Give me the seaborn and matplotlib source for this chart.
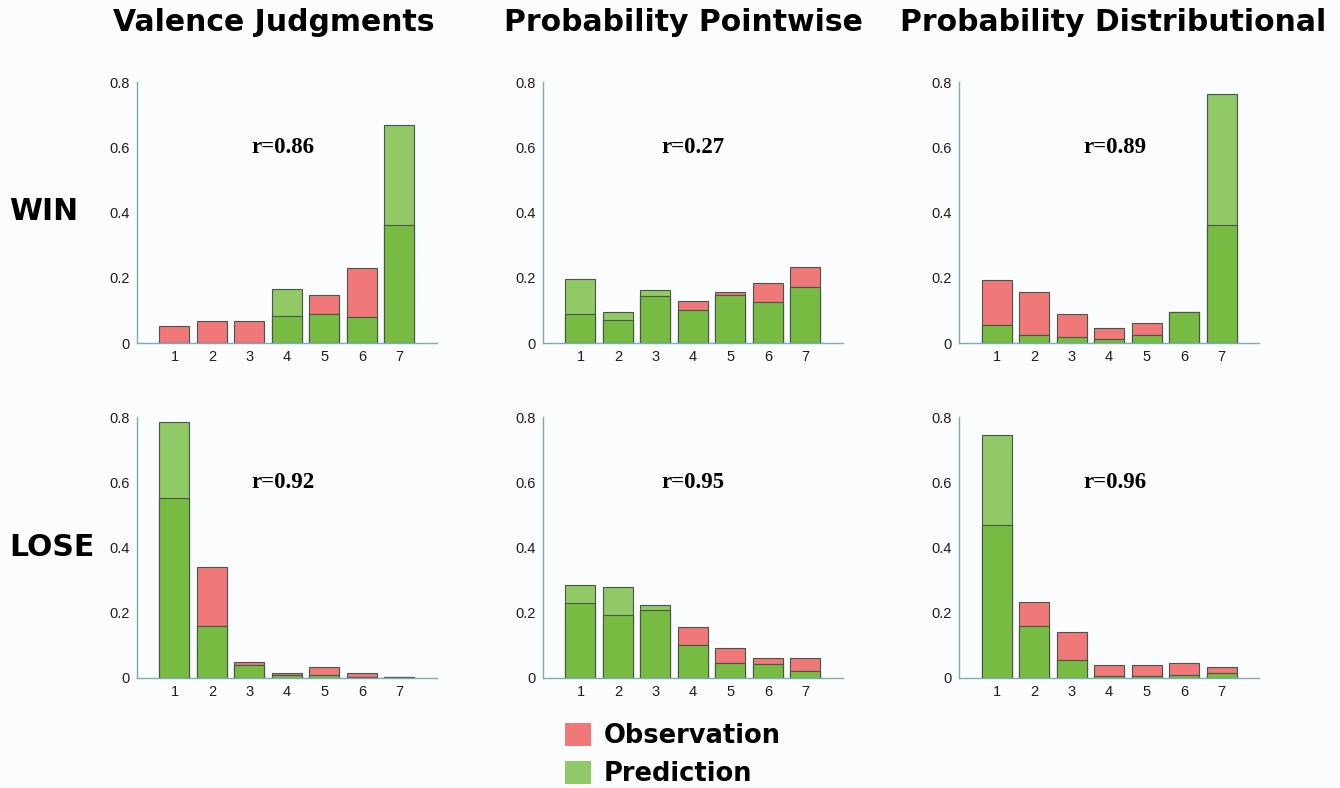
import seaborn as sns
import matplotlib.pyplot as plt
from matplotlib.patches import Patch

# response categories 1..7
cats = ['1', '2', '3', '4', '5', '6', '7']

# WIN row
obs_val_win = [0.051, 0.066, 0.066, 0.084, 0.148, 0.230, 0.363]
pred_val_win = [0.0, 0.0, 0.0, 0.166, 0.090, 0.079, 0.670]
obs_pp_win = [0.090, 0.072, 0.143, 0.130, 0.155, 0.184, 0.233]
pred_pp_win = [0.195, 0.094, 0.163, 0.102, 0.147, 0.125, 0.172]
obs_pd_win = [0.192, 0.155, 0.090, 0.045, 0.061, 0.095, 0.362]
pred_pd_win = [0.054, 0.025, 0.018, 0.013, 0.026, 0.095, 0.764]

# LOSE row
obs_val_lose = [0.551, 0.339, 0.050, 0.016, 0.035, 0.016, 0.002]
pred_val_lose = [0.785, 0.158, 0.040, 0.010, 0.008, 0.003, 0.002]
obs_pp_lose = [0.230, 0.194, 0.208, 0.157, 0.091, 0.062, 0.062]
pred_pp_lose = [0.284, 0.278, 0.225, 0.100, 0.046, 0.044, 0.022]
obs_pd_lose = [0.468, 0.233, 0.142, 0.041, 0.039, 0.045, 0.033]
pred_pd_lose = [0.746, 0.159, 0.054, 0.005, 0.005, 0.008, 0.016]

r_values = [['r=0.86', 'r=0.27', 'r=0.89'],
            ['r=0.92', 'r=0.95', 'r=0.96']]
col_titles = ['Valence Judgments', 'Probability Pointwise', 'Probability Distributional']
row_labels = ['WIN', 'LOSE']

panels = [[(obs_val_win, pred_val_win), (obs_pp_win, pred_pp_win), (obs_pd_win, pred_pd_win)],
          [(obs_val_lose, pred_val_lose), (obs_pp_lose, pred_pp_lose), (obs_pd_lose, pred_pd_lose)]]

RED = '#f07878'
LIGHT_GREEN = '#90c966'
DARK_GREEN = '#77bb42'
EDGE = '#46574a'
SPINE = '#7eaab8'
BG = '#fbfcfe'

sns.set_style('white')
plt.rcParams['font.family'] = ['DejaVu Sans']
plt.rcParams['text.color'] = 'black'

fig = plt.figure(figsize=(13.4, 7.88), dpi=100, facecolor=BG)

lefts = [0.1022, 0.4052, 0.7157]
bottoms = [0.5647, 0.1396]
w, h = 0.2239, 0.331
r_x = [2.9, 3.0, 3.15]

for i in range(2):
    for j in range(3):
        obs, pred = panels[i][j]
        overlap = [min(a, b) for a, b in zip(obs, pred)]
        ax = fig.add_axes([lefts[j], bottoms[i], w, h])
        ax.set_facecolor(BG)
        kw = dict(x=cats, ax=ax, width=0.8, saturation=1, edgecolor=EDGE, linewidth=0.8)
        sns.barplot(y=obs, color=RED, **kw)
        sns.barplot(y=pred, color=LIGHT_GREEN, **kw)
        sns.barplot(y=overlap, color=DARK_GREEN, **kw)
        ax.set_xlim(-1, 7)
        ax.set_ylim(0, 0.8)
        ax.set_yticks([0, 0.2, 0.4, 0.6, 0.8])
        ax.set_yticklabels(['0', '0.2', '0.4', '0.6', '0.8'])
        ax.set_xlabel('')
        ax.set_ylabel('')
        for s in ['top', 'right']:
            ax.spines[s].set_visible(False)
        for s in ['left', 'bottom']:
            ax.spines[s].set_color(SPINE)
            ax.spines[s].set_linewidth(1)
        ax.tick_params(axis='both', direction='in', length=3, color=SPINE,
                       labelsize=10.5, labelcolor='#1e1e1e', pad=5)
        for lab in ax.get_xticklabels() + ax.get_yticklabels():
            lab.set_family('Liberation Sans')
        ax.text(r_x[j], 0.6, r_values[i][j], ha='center', va='center',
                fontsize=16.5, fontweight='bold', family='Liberation Serif')

title_x = [0.204, 0.510, 0.831]
for j in range(3):
    fig.text(title_x[j], 0.972, col_titles[j], ha='center', va='center',
             fontsize=21.5, fontweight='bold')

fig.text(0.007, 0.731, row_labels[0], ha='left', va='center', fontsize=21.5, fontweight='bold')
fig.text(0.007, 0.305, row_labels[1], ha='left', va='center', fontsize=21.5, fontweight='bold')

handles = [Patch(facecolor=RED, edgecolor='none'), Patch(facecolor=LIGHT_GREEN, edgecolor='none')]
fig.legend(handles, ['Observation', 'Prediction'], loc='center', bbox_to_anchor=(0.502, 0.042),
           frameon=False, prop={'weight': 'bold', 'size': 18.5}, handlelength=1.0,
           handleheight=1.0, handletextpad=0.5, labelspacing=0.45)

fig.savefig('out.png', dpi=100, facecolor=BG)
